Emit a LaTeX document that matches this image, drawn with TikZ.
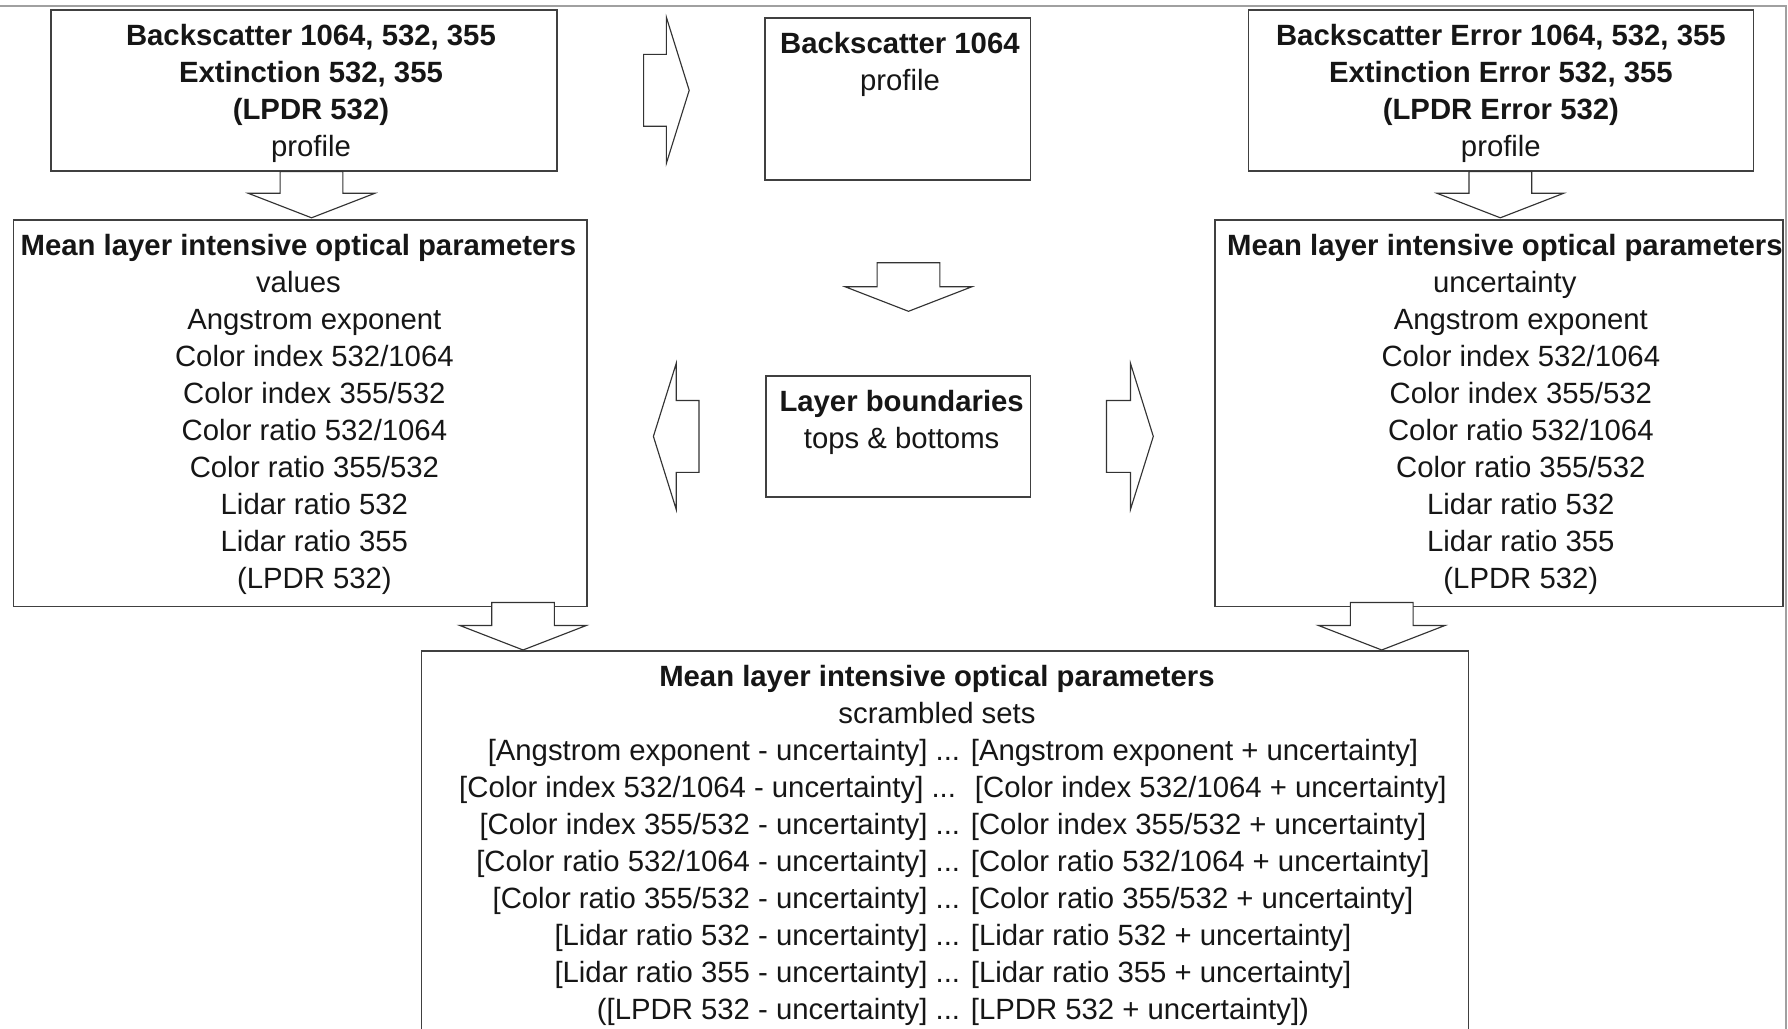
\documentclass[tikz,border=0pt]{standalone}
\usepackage{fontspec}
\setmainfont{Liberation Sans}
\usetikzlibrary{calc}
\definecolor{boxc}{HTML}{404040}
\definecolor{arrc}{HTML}{333333}
\definecolor{txtc}{HTML}{161616}
\definecolor{framec}{HTML}{A0A0A0}
% #1 = twice the horizontal shift of the text, #2 width, #3 height, #4 lines
\newcommand\boxtext[4]{\parbox[t][#3][t]{#2}{\vspace*{8.8pt}\fontsize{25.7}{32.45}\selectfont\centering\leftskip=#1 plus 1fil\relax\strut #4}}
\newcommand\downblock[2]{%
  \draw[blk] let \p1=(#1), \p2=(#2) in
    (\x2,\y2) -- (\x2-55.5pt,\y2+21.5pt) -- (\x2-27.5pt,\y2+21.5pt) -- (\x2-27.5pt,\y1)
    -- (\x2+27.5pt,\y1) -- (\x2+27.5pt,\y2+21.5pt) -- (\x2+55.5pt,\y2+21.5pt) -- cycle;}
\newcommand\rightblock[2]{%
  \draw[blk] let \p1=(#1), \p2=(#2) in
    (\x2,\y2) -- (\x2-20pt,\y2+64pt) -- (\x2-20pt,\y2+31.5pt) -- (\x1,\y2+31.5pt)
    -- (\x1,\y2-31.5pt) -- (\x2-20pt,\y2-31.5pt) -- (\x2-20pt,\y2-64pt) -- cycle;}
\newcommand\leftblock[2]{%
  \draw[blk] let \p1=(#1), \p2=(#2) in
    (\x2,\y2) -- (\x2+20pt,\y2+64pt) -- (\x2+20pt,\y2+31.5pt) -- (\x1,\y2+31.5pt)
    -- (\x1,\y2-31.5pt) -- (\x2+20pt,\y2-31.5pt) -- (\x2+20pt,\y2-64pt) -- cycle;}
\begin{document}
\begin{tikzpicture}[x=1pt,y=-1pt,
  box/.style={draw=boxc, line width=1.4pt, inner sep=0pt, anchor=north west, fill=white, text=txtc},
  blk/.style={draw=arrc, line width=1pt, fill=white, line join=miter},
  frameline/.style={draw=framec, line width=2pt}]
\useasboundingbox (0,0) rectangle (1568,902);
\clip (0,0) rectangle (1568,902);
\fill[white] (0,0) rectangle (1568,902);

% boxes
\node[box] (A) at (44,8) {\boxtext{12pt}{444pt}{141pt}{%
  \textbf{Backscatter 1064, 532, 355}\\
  \textbf{Extinction 532, 355}\\
  \textbf{(LPDR 532)}\\
  profile}};
\node[box] (B) at (670,15) {\boxtext{4pt}{233pt}{142pt}{%
  \textbf{Backscatter 1064}\\
  profile}};
\node[box] (C) at (1094,8) {\boxtext{0pt}{443pt}{141pt}{%
  \textbf{Backscatter Error 1064, 532, 355}\\
  \textbf{Extinction Error 532, 355}\\
  \textbf{(LPDR Error 532)}\\
  profile}};
\node[box] (D) at (11,192) {\boxtext{-3pt}{503pt}{339pt}{%
  \textbf{Mean layer intensive optical parameters}\\
  values\\
  \hspace*{28pt}Angstrom exponent\\
  \hspace*{28pt}Color index 532/1064\\
  \hspace*{28pt}Color index 355/532\\
  \hspace*{28pt}Color ratio 532/1064\\
  \hspace*{28pt}Color ratio 355/532\\
  \hspace*{28pt}Lidar ratio 532\\
  \hspace*{28pt}Lidar ratio 355\\
  \hspace*{28pt}(LPDR 532)}};
\node[box] (G) at (671,329) {\boxtext{6pt}{232pt}{106pt}{%
  \textbf{Layer boundaries}\\
  tops \& bottoms}};
\node[box] (F) at (1065,192) {\boxtext{10pt}{498pt}{339pt}{%
  \textbf{Mean layer intensive optical parameters}\\
  uncertainty\\
  \hspace*{28pt}Angstrom exponent\\
  \hspace*{28pt}Color index 532/1064\\
  \hspace*{28pt}Color index 355/532\\
  \hspace*{28pt}Color ratio 532/1064\\
  \hspace*{28pt}Color ratio 355/532\\
  \hspace*{28pt}Lidar ratio 532\\
  \hspace*{28pt}Lidar ratio 355\\
  \hspace*{28pt}(LPDR 532)}};
\node[box] (E) at (369,570) {\boxtext{-14pt}{918pt}{400pt}{%
  \textbf{Mean layer intensive optical parameters}\\
  scrambled sets\\
  \hspace*{28pt}[Angstrom exponent - uncertainty] ... [Angstrom exponent + uncertainty]\\
  \hspace*{28pt}[Color index 532/1064 - uncertainty] ... \ [Color index 532/1064 + uncertainty]\\
  \hspace*{28pt}[Color index 355/532 - uncertainty] ... [Color index 355/532 + uncertainty]\\
  \hspace*{28pt}[Color ratio 532/1064 - uncertainty] ... [Color ratio 532/1064 + uncertainty]\\
  \hspace*{28pt}[Color ratio 355/532 - uncertainty] ... [Color ratio 355/532 + uncertainty]\\
  \hspace*{28pt}[Lidar ratio 532 - uncertainty] ... [Lidar ratio 532 + uncertainty]\\
  \hspace*{28pt}[Lidar ratio 355 - uncertainty] ... [Lidar ratio 355 + uncertainty]\\
  \hspace*{28pt}([LPDR 532 - uncertainty] ... [LPDR 532 + uncertainty])}};

% block-arrow connectors
\coordinate (r1s) at ($(A.east)+(75,0)$);
\coordinate (r1t) at ($(A.east)+(115,0)$);
\rightblock{r1s}{r1t}

\coordinate (d1s) at ($(A.south)+(7,0)$);
\coordinate (d1t) at ($(D.north)+(10,-1)$);
\downblock{d1s}{d1t}

\coordinate (d2s) at ($(C.south)+(-2,0)$);
\coordinate (d2t) at ($(F.north)+(1,-1)$);
\downblock{d2s}{d2t}

\coordinate (d3s) at ($(B.south)+(9.5,72)$);
\coordinate (d3t) at ($(G.north)+(9,-56)$);
\downblock{d3s}{d3t}

\coordinate (l1s) at ($(G.west)+(-58,0)$);
\coordinate (l1t) at ($(G.west)+(-98,0)$);
\leftblock{l1s}{l1t}

\coordinate (r2s) at ($(G.east)+(66,0)$);
\coordinate (r2t) at ($(G.east)+(107,0)$);
\rightblock{r2s}{r2t}

\coordinate (d4s) at ($(D.south)+(196,-4)$);
\coordinate (d4t) at ($(E.north)+(-370,0)$);
\downblock{d4s}{d4t}

\coordinate (d5s) at ($(F.south)+(-103,-4)$);
\coordinate (d5t) at ($(E.north)+(383,0)$);
\downblock{d5s}{d5t}

% frame lines of the figure
\draw[frameline] (0,5) -- (1566,5) -- (1566,902);
\end{tikzpicture}
\end{document}
